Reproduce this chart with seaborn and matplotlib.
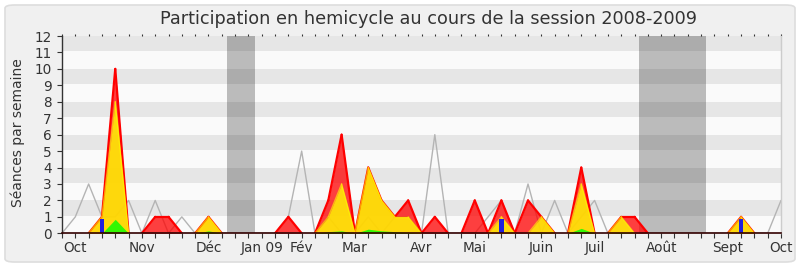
import numpy as np
import pandas as pd
import matplotlib
matplotlib.use("Agg")
import matplotlib.pyplot as plt
from matplotlib.patches import FancyBboxPatch
from matplotlib.collections import LineCollection
import seaborn as sns

# ---- data (week index 0..54) ----
weeks = list(range(55))
presence = [0, 1, 3, 1, 1, 2, 0, 2, 0, 1, 0, 0, 0, 0, 0, 0, 0, 1, 5, 0,
            1, 0, 0, 1, 0, 1, 1, 0, 6, 0, 0, 0, 1, 2, 0, 3, 0, 2, 0, 1,
            2, 0, 0, 0, 0, 0, 0, 0, 0, 0, 0, 0, 0, 0, 2]
red_vals = [0, 0, 0, 1, 10, 0, 0, 1, 1, 0, 0, 1, 0, 0, 0, 0, 0, 1, 0, 0,
            2, 6, 0, 4, 2, 1, 2, 0, 1, 0, 0, 2, 0, 2, 0, 2, 1, 0, 0, 4,
            0, 0, 1, 1, 0, 0, 0, 0, 0, 0, 0, 1, 0, 0, 0]
yellow_vals = [0, 0, 0, 1, 8, 0, 0, 0, 0, 0, 0, 1, 0, 0, 0, 0, 0, 0, 0, 0,
               1, 3, 0, 4, 2, 1, 1, 0, 0, 0, 0, 0, 0, 1, 0, 0, 1, 0, 0, 3,
               0, 0, 1, 0, 0, 0, 0, 0, 0, 0, 0, 1, 0, 0, 0]
green_vals = [0, 0, 0, 0, 0.85, 0, 0, 0, 0, 0, 0, 0.15, 0, 0, 0, 0, 0, 0, 0, 0,
              0.1, 0.15, 0, 0.25, 0.15, 0.1, 0.05, 0, 0, 0, 0, 0, 0, 0, 0, 0, 0.05, 0, 0, 0.3,
              0, 0, 0.05, 0, 0, 0, 0, 0, 0, 0, 0, 0, 0, 0, 0]
blue_weeks = [3, 33, 51]
blue_vals = [0.85, 0.85, 0.85]
month_pos = [1, 6, 11, 15, 18, 22, 27, 31, 36, 40, 45, 50, 54]
month_labels = ["Oct", "Nov", "Déc", "Jan 09", "Fév", "Mar", "Avr", "Mai",
                "Juin", "Juil", "Août", "Sept", "Oct"]
holidays = [(12.38, 14.48), (43.35, 48.35)]

df = pd.DataFrame({"week": weeks, "presence": presence})


def outline(ax, xs, vals, **kw):
    """Stroke only the sloped/raised parts of an area, not the zero baseline."""
    segs = []
    for i in range(len(vals) - 1):
        if vals[i] > 0 or vals[i + 1] > 0:
            segs.append([(xs[i], vals[i]), (xs[i + 1], vals[i + 1])])
    lc = LineCollection(segs, capstyle="round", joinstyle="round", **kw)
    ax.add_collection(lc)


sns.set_theme(style="white")
plt.rcParams["font.family"] = ["DejaVu Sans"]

W, H = 800, 267
fig = plt.figure(figsize=(W / 100, H / 100), dpi=100)
fig.patch.set_facecolor("white")
frame = FancyBboxPatch((5 / W, 5 / H), 790 / W, 257 / H,
                       boxstyle="round,pad=0,rounding_size=0.012",
                       transform=fig.transFigure, facecolor="#f0f0f0",
                       edgecolor="#dddddd", lw=1.2, zorder=-10)
fig.patches.append(frame)

x0, x1, ytop, ybot = 62, 781, 36, 233.3
ax = fig.add_axes([x0 / W, (H - ybot) / H, (x1 - x0) / W, (ybot - ytop) / H])
ax.set_facecolor("#fafafa")

for n in range(1, 12, 2):
    ax.axhspan(n + 0.08, n + 1, color="#e6e6e6", lw=0, zorder=0)
for a, b in holidays:
    ax.axvspan(a, b, color="black", alpha=0.25, lw=0, zorder=1)

sns.lineplot(data=df, x="week", y="presence", ax=ax, color="#b4b4b4", lw=1, zorder=2)

ax.fill_between(weeks, 0, red_vals, color="#ff0000", alpha=0.75, lw=0, zorder=3)
outline(ax, weeks, red_vals, colors="#ff0000", linewidths=1.6, zorder=3.1)
ax.fill_between(weeks, 0, yellow_vals, color="#ffff00", alpha=0.8, lw=0, zorder=4)
outline(ax, weeks, yellow_vals, colors="#ffff00", linewidths=1.0, alpha=0.6, zorder=4.1)
ax.fill_between(weeks, 0, green_vals, color="#00ff00", alpha=0.8, lw=0, zorder=5)
ax.bar(blue_weeks, blue_vals, width=0.33, color="#2020dd", lw=0, zorder=6)

ax.set_xlim(0, 54)
ax.set_ylim(0, 12)
ax.set_yticks(range(13))
ax.set_xticks(weeks)
lab = [""] * len(weeks)
for p, l in zip(month_pos, month_labels):
    lab[p] = l
ax.set_xticklabels(lab)
ax.tick_params(axis="both", which="both", labelsize=9.8, colors="#333333",
               length=3.8, width=0.8, direction="out")
ax.tick_params(axis="x", pad=1.5, bottom=True)
ax.tick_params(axis="y", pad=3.5, left=True)
ax.set_xlabel("")
ax.set_ylabel("")

sec = ax.secondary_xaxis("top")
sec.set_xticks(weeks)
sec.set_xticklabels([])
sec.tick_params(length=1.2, width=0.8, color="#333333", direction="out")
sec.spines["top"].set_visible(False)

ax.spines["top"].set_visible(False)
ax.spines["left"].set_color("#333333")
ax.spines["left"].set_linewidth(1)
ax.spines["bottom"].set_color("#330000")
ax.spines["bottom"].set_linewidth(1.2)
ax.spines["bottom"].set_zorder(7)
ax.spines["right"].set_color("#cccccc")
ax.spines["right"].set_linewidth(1)

fig.text(428 / W, 1 - 19 / H, "Participation en hemicycle au cours de la session 2008-2009",
         ha="center", va="center", fontsize=12.7, color="#333333")
fig.text(18 / W, 1 - 133 / H, "Séances par semaine", rotation=90,
         ha="center", va="center", fontsize=10, color="#333333")

fig.savefig("out.png", dpi=100, facecolor=fig.get_facecolor())
